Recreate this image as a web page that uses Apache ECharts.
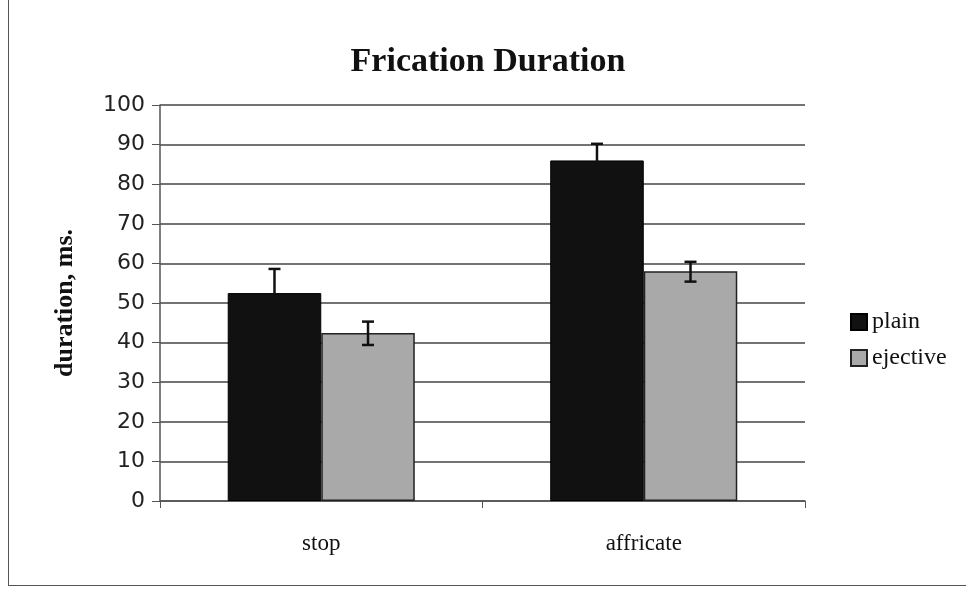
<!DOCTYPE html>
<html>
<head>
<meta charset="utf-8">
<script src="https://cdn.jsdelivr.net/npm/echarts@6/dist/echarts.min.js"></script>
<style>
  html, body { margin: 0; padding: 0; background: #fff; }
  #main { width: 966px; height: 590px; }
  #frame { position: absolute; left: 8px; top: -2px; width: 970px; height: 588px; border: 1.5px solid #555; box-sizing: border-box; pointer-events: none; }
</style>
</head>
<body>
<div id="main"></div>
<div id="frame"></div>
<script>
// 数据
var categories = ['stop', 'affricate'];
var plainVals = [52.5, 86];
var ejectiveVals = [42.4, 58];
var plainErr = [[46, 58.6], [82, 90.2]];
var ejectiveErr = [[39.4, 45.3], [55.4, 60.4]];
var yTicks = [0, 10, 20, 30, 40, 50, 60, 70, 80, 90, 100];

var catGap = 0.42;

function errSeries(name, errs, side) {
    return {
        name: name,
        type: 'custom',
        z: 5,
        silent: true,
        data: errs.map(function (e, i) { return [i, e[0], e[1]]; }),
        renderItem: function (params, api) {
            var catW = api.size([1, 0])[0];
            var barW = catW * (1 - catGap) / 2;
            var lo = api.coord([api.value(0), api.value(1)]);
            var hi = api.coord([api.value(0), api.value(2)]);
            var x = lo[0] + side * barW / 2;
            var cap = 6;
            var st = { stroke: '#111', lineWidth: 2.5 };
            return {
                type: 'group',
                children: [
                    { type: 'line', shape: { x1: x, y1: lo[1], x2: x, y2: hi[1] }, style: st },
                    { type: 'line', shape: { x1: x - cap, y1: lo[1], x2: x + cap, y2: lo[1] }, style: st },
                    { type: 'line', shape: { x1: x - cap, y1: hi[1], x2: x + cap, y2: hi[1] }, style: st }
                ]
            };
        }
    };
}

var myChart = echarts.init(document.getElementById('main'));
var option = {
    animation: false,
    title: {
        text: 'Frication Duration',
        left: 483,
        textAlign: 'center',
        top: 40,
        textStyle: { fontFamily: 'Liberation Serif', fontWeight: 'bold', fontSize: 34, color: '#111' }
    },
    legend: {
        orient: 'vertical',
        left: 845,
        top: 305,
        itemWidth: 16,
        itemHeight: 16,
        itemGap: 12,
        icon: 'rect',
        data: ['plain', 'ejective'],
        textStyle: { fontFamily: 'Liberation Serif', fontSize: 24, color: '#111', padding: [0, 0, 0, 0] }
    },
    grid: { left: 160, right: 161, top: 105, bottom: 89 },
    xAxis: {
        type: 'category',
        data: categories,
        axisLine: { lineStyle: { color: '#555', width: 1.5 } },
        axisTick: { show: true, length: 7, lineStyle: { color: '#555' } },
        axisLabel: { margin: 31, fontFamily: 'Liberation Serif', fontSize: 23, color: '#111' }
    },
    yAxis: {
        type: 'value',
        min: yTicks[0],
        max: yTicks[yTicks.length - 1],
        interval: 10,
        name: 'duration, ms.',
        nameLocation: 'middle',
        nameGap: 82,
        nameTextStyle: { fontFamily: 'Liberation Serif', fontWeight: 'bold', fontSize: 26, color: '#111' },
        axisLine: { show: true, lineStyle: { color: '#555', width: 1.5 } },
        axisTick: { show: true, length: 8, lineStyle: { color: '#555' } },
        axisLabel: { margin: 15, fontFamily: 'DejaVu Sans', fontSize: 22, color: '#222' },
        splitLine: { lineStyle: { color: '#444', width: 1.5 } }
    },
    series: [
        {
            name: 'plain',
            type: 'bar',
            data: plainVals,
            barGap: '0%',
            barCategoryGap: '42%',
            itemStyle: { color: '#111', borderColor: '#000', borderWidth: 1 }
        },
        {
            name: 'ejective',
            type: 'bar',
            data: ejectiveVals,
            barGap: '0%',
            barCategoryGap: '42%',
            itemStyle: { color: '#a9a9a9', borderColor: '#222', borderWidth: 1.5 }
        },
        errSeries('plainErr', plainErr, -1),
        errSeries('ejectiveErr', ejectiveErr, 1)
    ]
};
myChart.setOption(option);
</script>
</body>
</html>
